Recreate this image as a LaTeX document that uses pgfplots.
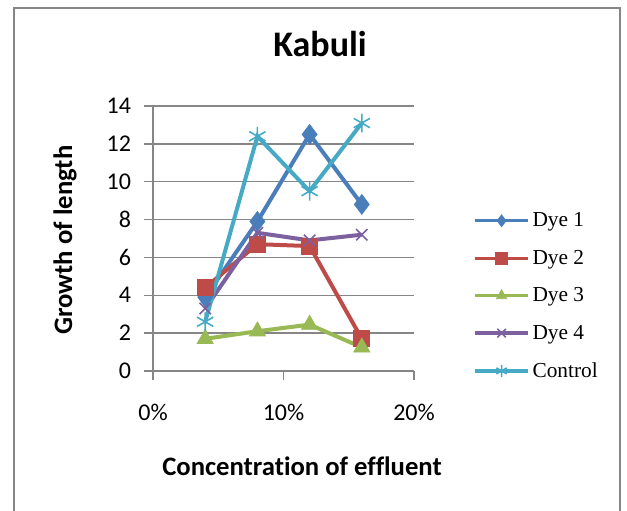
\documentclass[border=0pt]{standalone}
\usepackage{pgfplots}
\pgfplotsset{compat=1.18}
\usepackage{fontspec}
\setmainfont[Ligatures=NoCommon]{Carlito}
\newfontfamily\legfont{Liberation Serif}
\definecolor{c1}{HTML}{4A7EBB}
\definecolor{c2}{HTML}{BE4B48}
\definecolor{c3}{HTML}{98B954}
\definecolor{c4}{HTML}{7D60A0}
\definecolor{c5}{HTML}{46AAC5}
\definecolor{gridc}{HTML}{868686}
\begin{document}
\begin{tikzpicture}
\useasboundingbox (0,0) rectangle (470.25pt,-382.5pt);
\draw[gridc, line width=1.5pt] (10.5pt,-6pt) rectangle (465pt,-395pt);
\begin{axis}[
  at={(114.75pt,-278.25pt)}, anchor=south west,
  scale only axis, width=195.75pt, height=198.75pt,
  xmin=0, xmax=20, ymin=0, ymax=14,
  xtick={0,10,20}, xticklabels={0\%,10\%,20\%},
  ytick={0,2,...,14},
  axis x line*=bottom, axis y line*=left,
  axis line style={gridc, line width=1pt},
  every tick/.style={gridc, line width=1pt},
  tick align=outside, major tick length=7pt,
  ymajorgrids, grid style={gridc, line width=1pt},
  /pgf/number format/assume math mode=true,
  tick label style={font=\fontsize{18}{20}\selectfont},
  xticklabel style={yshift=-14pt},
  yticklabel style={xshift=-6pt},
  title={\textbf{Kabuli}},
  title style={at={(rel axis cs:0.64,1.204)}, anchor=center, font=\fontsize{27}{30}\selectfont},
  xlabel={\textbf{Concentration of effluent}},
  xlabel style={at={(rel axis cs:0.571,-0.358)}, anchor=center, font=\fontsize{20}{23}\selectfont},
  ylabel={\textbf{Growth of length}},
  ylabel style={at={(rel axis cs:-0.337,0.494)}, anchor=center, rotate=0, font=\fontsize{20}{23}\selectfont},
  legend cell align=left,
  legend style={draw=none, fill=none, at={(rel axis cs:1.226,0.283)}, anchor=west,
    font=\legfont\fontsize{16}{17}\selectfont, row sep=12pt, inner sep=0pt},
  legend image code/.code={
    \draw[#1, mark=none, line width=2.5pt] (0pt,0pt) -- (40pt,0pt);
    \draw[#1, only marks, mark size=4.5pt] plot coordinates {(20pt,0pt)};
  },
  every axis plot/.append style={line width=3pt},
  clip=false,
]
\addplot[c1, mark=diamond*, mark size=7.5pt, mark options={fill=c1, line width=0.5pt}] coordinates {(4,3.9) (8,7.9) (12,12.5) (16,8.8)};
\addlegendentry{Dye 1}
\addplot[c2, mark=square*, mark size=6pt, mark options={fill=c2, line width=0.5pt}] coordinates {(4,4.4) (8,6.7) (12,6.6) (16,1.7)};
\addlegendentry{Dye 2}
\addplot[c3, mark=triangle*, mark size=7pt, mark options={fill=c3, line width=0.5pt}] coordinates {(4,1.7) (8,2.1) (12,2.45) (16,1.25)};
\addlegendentry{Dye 3}
\addplot[c4, mark=x, mark size=6pt, mark options={line width=1.2pt}] coordinates {(4,3.3) (8,7.3) (12,6.9) (16,7.2)};
\addlegendentry{Dye 4}
\addplot[c5, mark=asterisk, mark size=7pt, mark options={line width=1.2pt}] coordinates {(4,2.6) (8,12.4) (12,9.5) (16,13.1)};
\addlegendentry{Control}
\end{axis}
\end{tikzpicture}
\end{document}
